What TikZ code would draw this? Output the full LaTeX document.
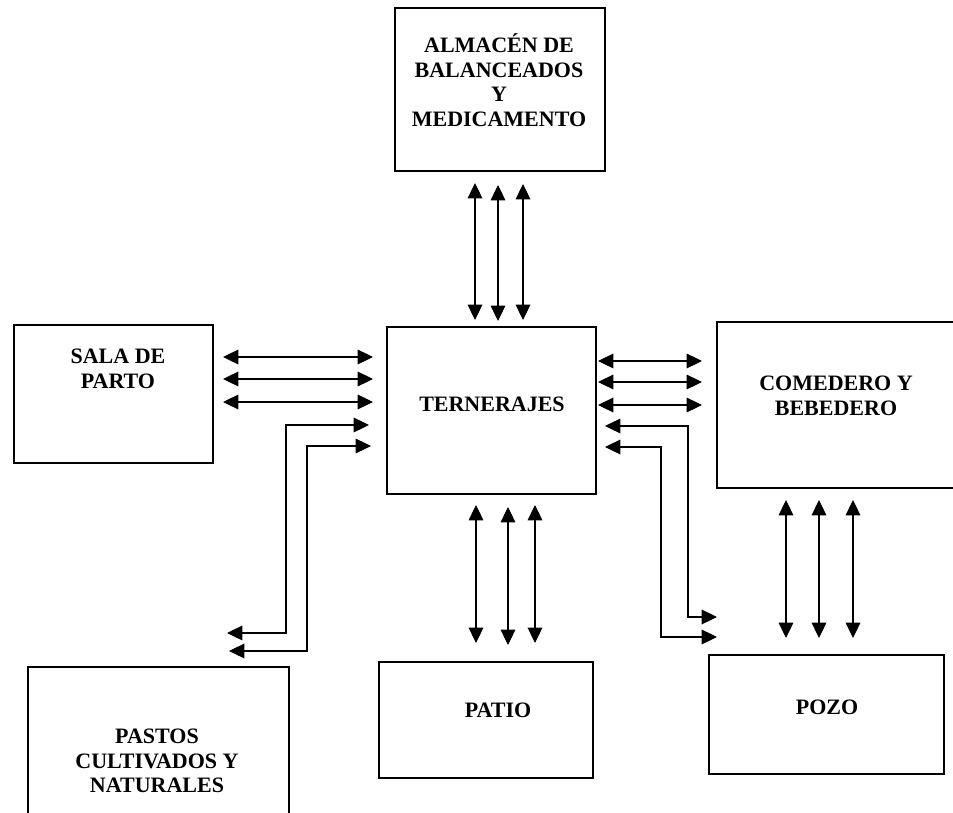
\documentclass[tikz,border=0pt]{standalone}
\usepackage{fontspec}
\setmainfont{Liberation Serif}
\usetikzlibrary{arrows.meta}
\begin{document}
\begin{tikzpicture}[x=0.75pt,y=-0.75pt,
  box/.style 2 args={draw, line width=0.8pt, inner sep=0pt, minimum width=#1*0.75pt, minimum height=#2*0.75pt},
  lbl/.style={font=\fontsize{16.5}{18.4}\selectfont\bfseries, align=center, inner sep=0pt},
  arr/.style={line width=0.8pt, {Triangle[length=11.5pt,width=11pt]}-{Triangle[length=11.5pt,width=11pt]}}]
\clip (0,0) rectangle (953,813);
% boxes
\node[box={210}{163}] (alm) at (500,89.5) {};
\node[box={209}{167}] (tern) at (491.5,410.5) {};
\node[box={199}{138}] (sala) at (113.5,394) {};
\node[box={243}{166}] (come) at (838.5,405) {};
\node[box={261}{173}] (past) at (158.5,753.5) {};
\node[box={214}{116}] (patio) at (486,720) {};
\node[box={235}{119}] (pozo) at (826.5,714.5) {};
% labels
\node[lbl] (almT) at (499,80) {ALMACÉN DE\\BALANCEADOS\\Y\\MEDICAMENTO};
\node[lbl] (ternT) at (492,404) {TERNERAJES};
\node[lbl] (salaT) at (118,369) {SALA DE\\PARTO};
\node[lbl] (comeT) at (836,396) {COMEDERO Y\\BEBEDERO};
\node[lbl] (pastT) at (157,761) {PASTOS\\CULTIVADOS Y\\NATURALES};
\node[lbl] (patioT) at (498,710) {PATIO};
\node[lbl] (pozoT) at (827,707) {POZO};
% arrow end points
\coordinate (t1a) at (475,183); \coordinate (t1b) at (475,320);
\coordinate (t2a) at (498,185); \coordinate (t2b) at (498,321);
\coordinate (t3a) at (523,184); \coordinate (t3b) at (523,320);
\coordinate (l1a) at (223,357); \coordinate (l1b) at (373,357);
\coordinate (l2a) at (223,379); \coordinate (l2b) at (373,379);
\coordinate (l3a) at (223,402); \coordinate (l3b) at (373,402);
\coordinate (e1a) at (227,633); \coordinate (e1k) at (286,633); \coordinate (e1b) at (369,425);
\coordinate (e2a) at (229,651); \coordinate (e2k) at (307,651); \coordinate (e2b) at (371,446);
\coordinate (r1a) at (598,361); \coordinate (r1b) at (702,361);
\coordinate (r2a) at (598,382); \coordinate (r2b) at (702,382);
\coordinate (r3a) at (598,405); \coordinate (r3b) at (702,405);
\coordinate (f1a) at (605,426); \coordinate (f1k) at (688,426); \coordinate (f1b) at (717,617);
\coordinate (f2a) at (605,447); \coordinate (f2k) at (661,447); \coordinate (f2b) at (717,637);
\coordinate (b1a) at (476,505); \coordinate (b1b) at (476,643);
\coordinate (b2a) at (508,507); \coordinate (b2b) at (508,645);
\coordinate (b3a) at (535,505); \coordinate (b3b) at (535,643);
\coordinate (v1a) at (786,500); \coordinate (v1b) at (786,638);
\coordinate (v2a) at (819,500); \coordinate (v2b) at (819,638);
\coordinate (v3a) at (853,500); \coordinate (v3b) at (853,638);
% arrows
\foreach \p in {t1,t2,t3,l1,l2,l3,r1,r2,r3,b1,b2,b3,v1,v2,v3}
  \draw[arr] (\p a) -- (\p b);
\draw[arr] (e1a) -- (e1k) |- (e1b);
\draw[arr] (e2a) -- (e2k) |- (e2b);
\draw[arr] (f1a) -- (f1k) |- (f1b);
\draw[arr] (f2a) -- (f2k) |- (f2b);
\end{tikzpicture}
\end{document}
